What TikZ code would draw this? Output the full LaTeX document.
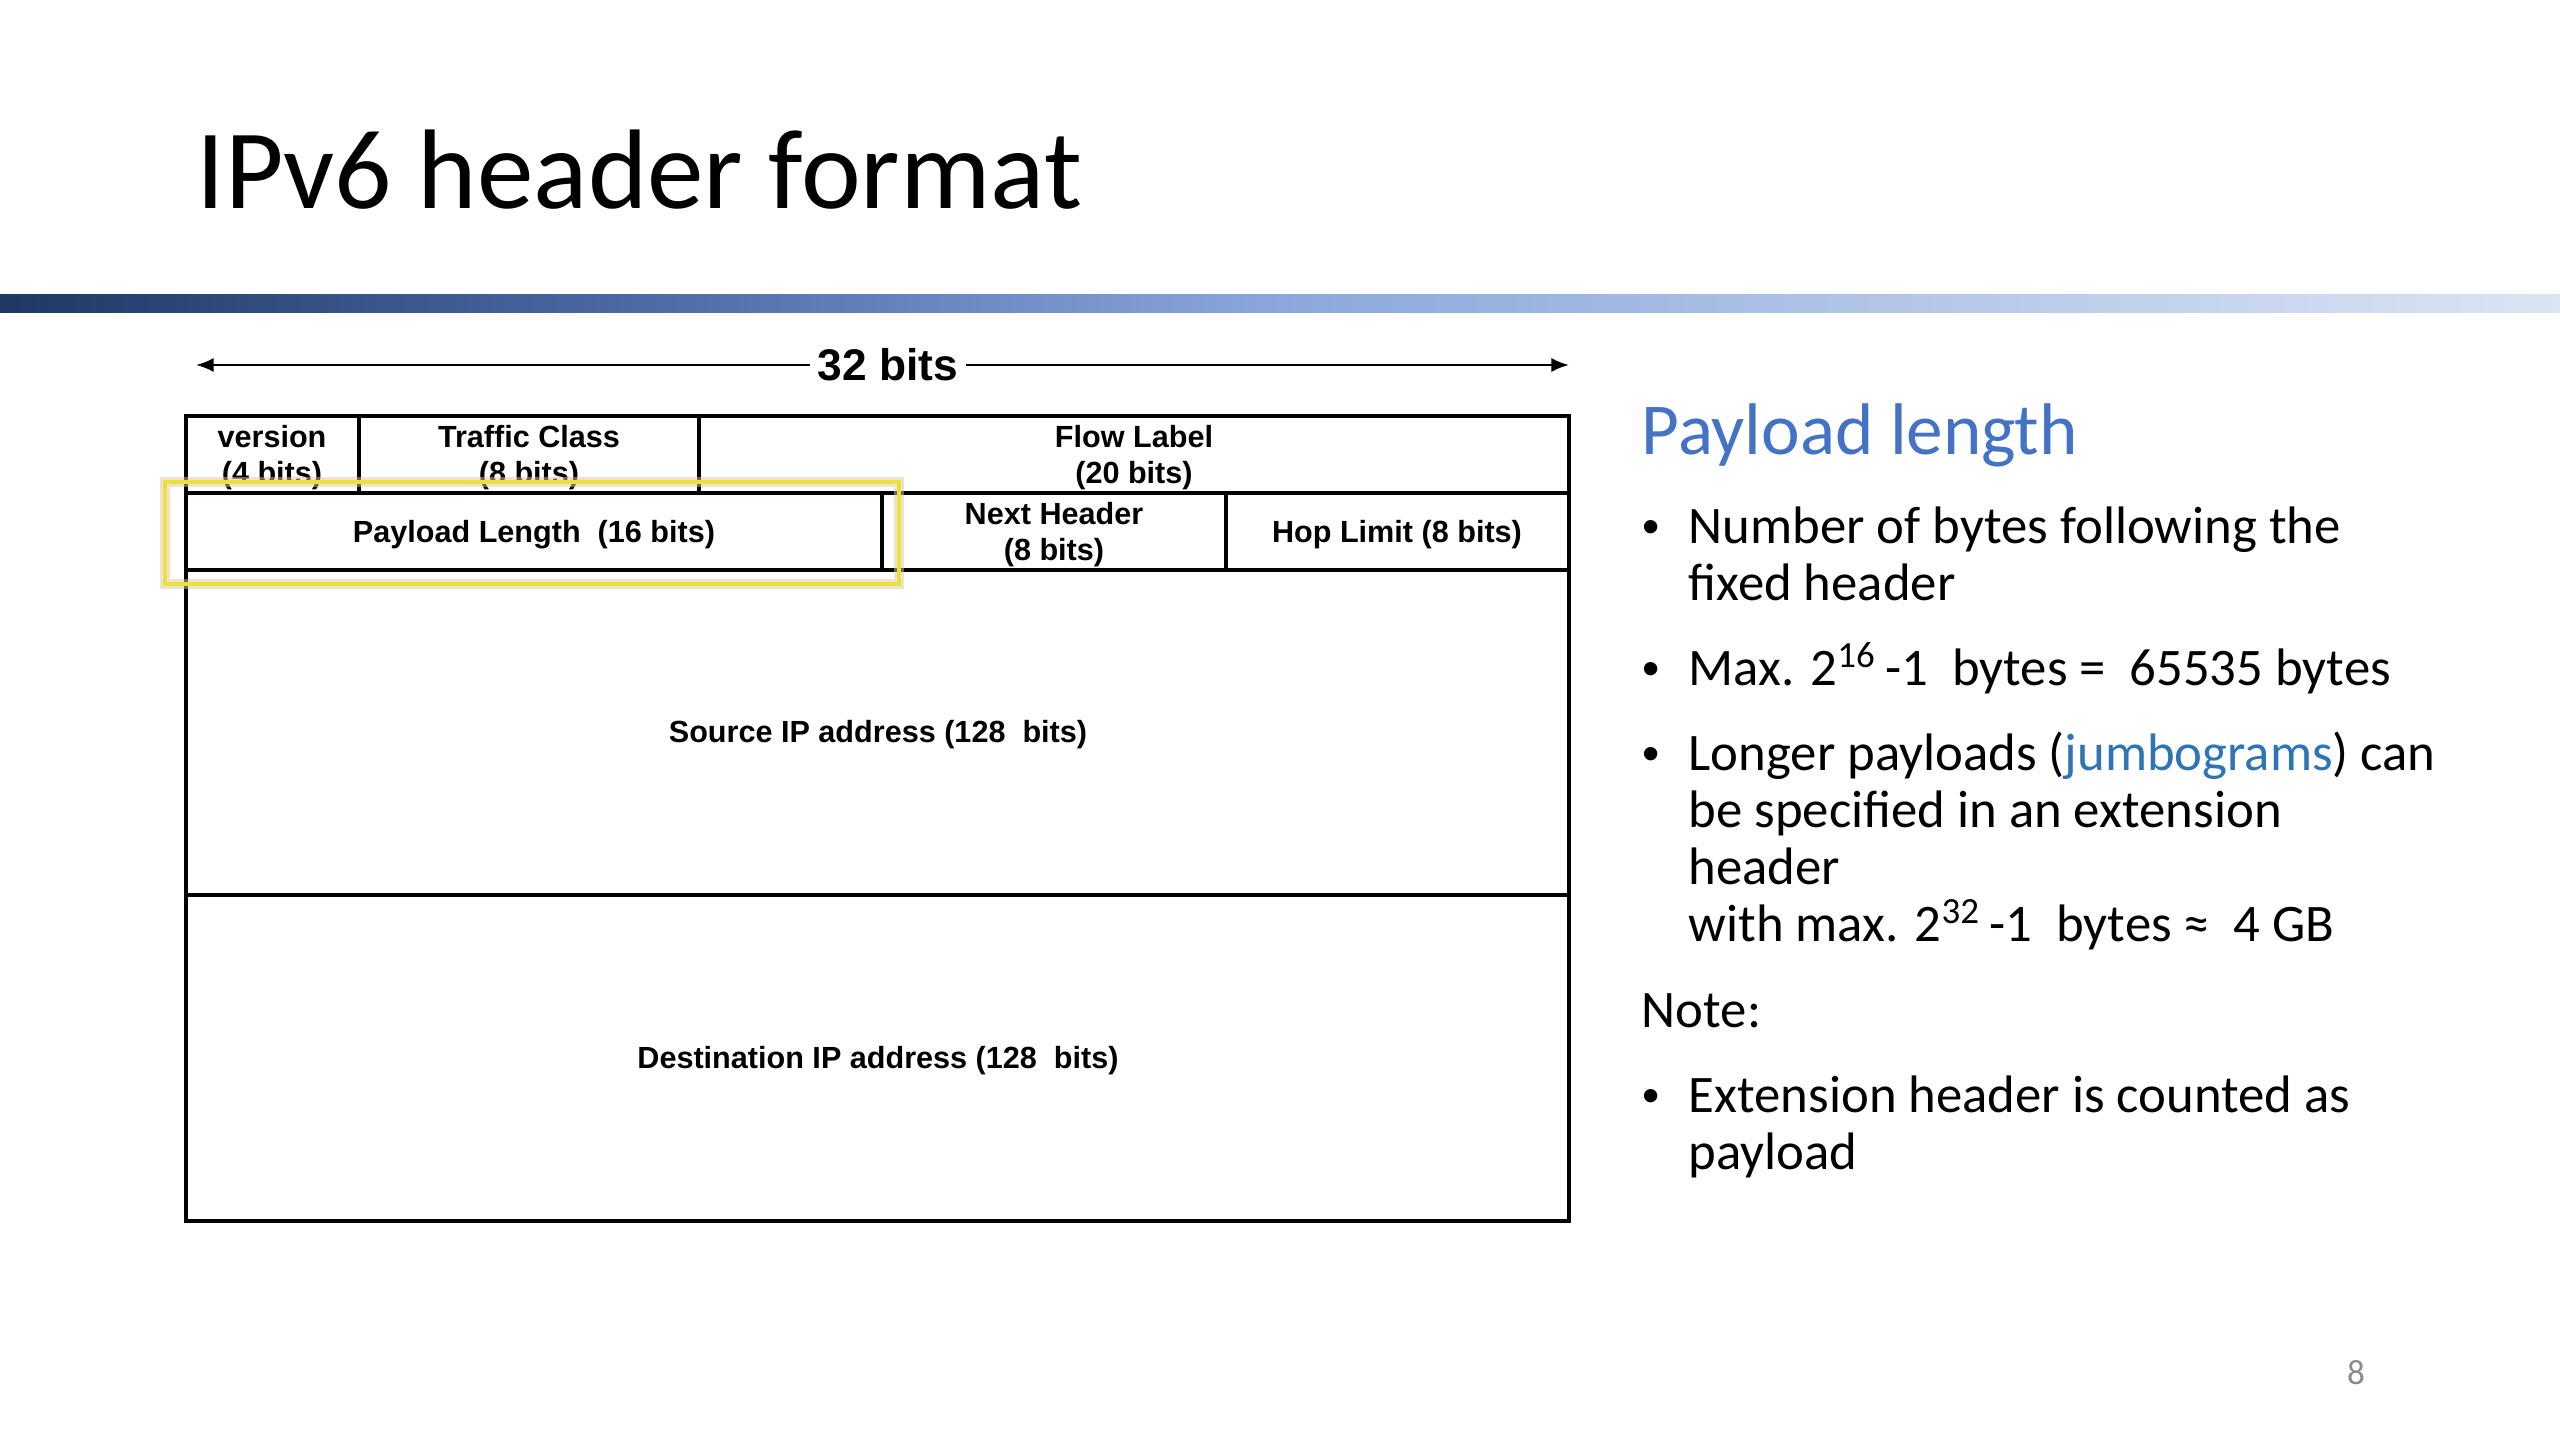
\documentclass[tikz,border=0pt]{standalone}
\usepackage{fontspec}
\setmainfont{Carlito}
\newfontfamily\arialfont{Liberation Sans}
\usetikzlibrary{arrows.meta}
\definecolor{TitleBlue}{HTML}{4472C4}
\definecolor{LinkBlue}{HTML}{2E75B6}
\definecolor{BarDark}{HTML}{1F3864}
\definecolor{BarQuarter}{HTML}{4D6AA5}
\definecolor{BarMid}{HTML}{8AA8DC}
\definecolor{BarThree}{HTML}{B4C7E7}
\definecolor{BarLight}{HTML}{DCE4F3}
\definecolor{MarkYellow}{HTML}{E9E23A}
\definecolor{PageGray}{HTML}{8C8C8C}
\pgfdeclarehorizontalshading{barshade}{100bp}{color(0bp)=(BarDark); color(25bp)=(BarDark); color(37.5bp)=(BarQuarter); color(50bp)=(BarMid); color(62.5bp)=(BarThree); color(75bp)=(BarLight); color(100bp)=(BarLight)}

\begin{document}
\begin{tikzpicture}[x=0.01cm, y=-0.01cm,
	cell/.style={line width=0.9pt},
	field/.style={font=\arialfont\bfseries\fontsize{8.7}{10.2}\selectfont, align=center, inner sep=0pt},
	bodytext/.style={anchor=base west, inner sep=0pt, font=\fontsize{15}{18}\selectfont},
	bulletdot/.style={anchor=base, inner sep=0pt, font=\arialfont\fontsize{14}{16}\selectfont}]
	\useasboundingbox (0,0) rectangle (2560,1440);
	\fill[white] (0,0) rectangle (2560,1440);
	% title and bar
	\node[anchor=base west, inner sep=0pt, font=\fontsize{32.2}{38}\selectfont] (title) at (196,209) {IPv6 header format};
	\shade[shading=barshade] (0,295) rectangle (2560,313);
	% width arrow
	\coordinate (arrL) at (196,365);
	\coordinate (arrR) at (1569,365);
	\node[fill=white, inner xsep=2pt, inner ysep=0pt, font=\arialfont\bfseries\fontsize{12.6}{15}\selectfont] (bits) at (888,365) {32 bits};
	\draw[line width=0.7pt, -{Latex[length=5pt,width=4pt]}] (bits) -- (arrL);
	\draw[line width=0.7pt, -{Latex[length=5pt,width=4pt]}] (bits) -- (arrR);
	% header fields
	\draw[cell] (186,416) rectangle (1569,1221);
	\draw[cell] (186,493) -- (1569,493);
	\draw[cell] (186,570) -- (1569,570);
	\draw[cell] (186,895) -- (1569,895);
	\draw[cell] (359,416) -- (359,493);
	\draw[cell] (699,416) -- (699,493);
	\draw[cell] (882,493) -- (882,570);
	\draw[cell] (1226,493) -- (1226,570);
	\node[field] (ver) at (272,458) {version\\(4 bits)};
	\node[field] (tc) at (529,458) {Traffic Class\\(8 bits)};
	\node[field] (fl) at (1134,458) {Flow Label\\(20 bits)};
	\node[field] (pl) at (534,535) {Payload Length\ \ (16 bits)};
	\node[field] (nh) at (1054,535) {Next Header\\(8 bits)};
	\node[field] (hl) at (1397,535) {Hop Limit (8 bits)};
	\node[field] (src) at (878,735) {Source IP address (128\ \ bits)};
	\node[field] (dst) at (878,1061) {Destination IP address (128\ \ bits)};
	% highlight
	\draw[line width=2.6pt, brown!45, opacity=0.5] (165,482) rectangle (899,584);
	\draw[line width=1.2pt, MarkYellow] (165,482) rectangle (899,584);
	% notes
	\node[anchor=base west, inner sep=0pt, text=TitleBlue, font=\fontsize{20.8}{25}\selectfont] (head) at (1641,455) {Payload length};
	\foreach \y in {544,686,771,1112}
		\node[bulletdot] (dot\y) at (1651,\y) {•};
	\node[bodytext] (l1) at (1688,544) {Number of bytes following the};
	\node[bodytext] (l2) at (1688,601) {fixed header};
	\node[bodytext] (l3) at (1688,686) {Max. 2\textsuperscript{16}\,-1\ \ bytes =\ \ 65535 bytes};
	\node[bodytext] (l4) at (1688,771) {Longer payloads (\textcolor{LinkBlue}{jumbograms}) can};
	\node[bodytext] (l5) at (1688,828) {be specified in an extension};
	\node[bodytext] (l6) at (1688,885) {header};
	\node[bodytext] (l7) at (1688,942) {with max. 2\textsuperscript{32}\,-1\ \ bytes ≈\ \ 4 GB};
	\node[bodytext] (note) at (1641,1027) {Note:};
	\node[bodytext] (l8) at (1688,1112) {Extension header is counted as};
	\node[bodytext] (l9) at (1688,1169) {payload};
	\node[anchor=base, inner sep=0pt, text=PageGray, font=\fontsize{10}{12}\selectfont] (page) at (2356,1384) {8};
\end{tikzpicture}
\end{document}
